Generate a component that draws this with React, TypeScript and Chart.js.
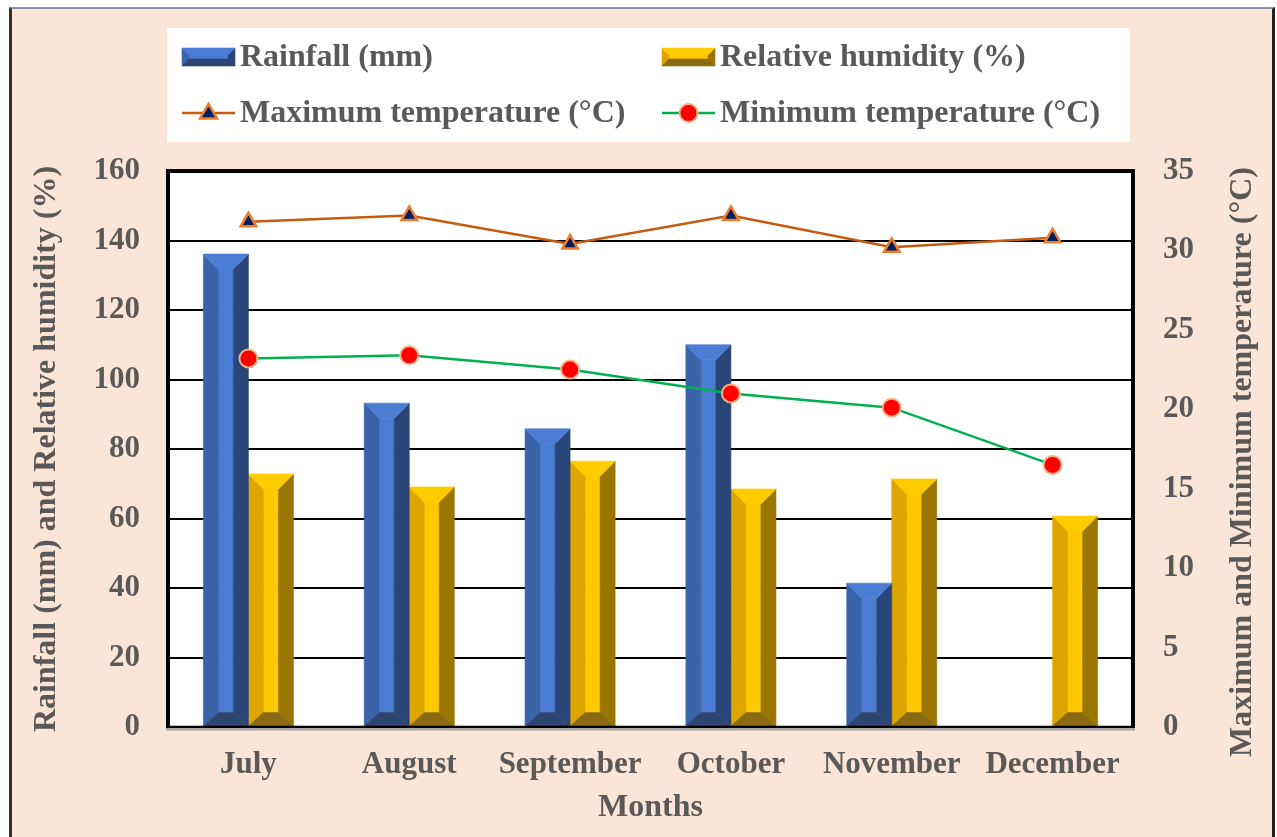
import React, { useEffect, useRef } from "react";
import { Chart, registerables } from "chart.js";
Chart.register(...registerables);

const months = ["July", "August", "September", "October", "November", "December"];
const rainfall = [136.1, 93.2, 85.8, 110.0, 41.4, 0];
const humidity = [72.8, 69.1, 76.5, 68.5, 71.4, 60.7];
const maxTemp = [31.8, 32.2, 30.4, 32.2, 30.2, 30.8];
const minTemp = [23.2, 23.4, 22.5, 21.0, 20.1, 16.5];

const legendLabels = [
  "Rainfall (mm)",
  "Relative humidity (%)",
  "Maximum temperature (°C)",
  "Minimum temperature (°C)",
];
const leftTitle = "Rainfall (mm) and Relative humidity (%)";
const rightTitle = "Maximum and Minimum temperature (°C)";
const xTitle = "Months";

const FONT = "'Liberation Serif', 'Times New Roman', serif";
const TEXT = "#595959";

const blue = { top: "#4B7DD3", left: "#3A64A9", center: "#4A7CD3", right: "#2A4678", bottom: "#2E4571" };
const gold = { top: "#FFCC00", left: "#DDA600", center: "#FFC800", right: "#9A7500", bottom: "#8A6B12" };
const maxColor = "#C55A11";
const maxFill = "#002060";
const maxEdge = "#ED7D31";
const minColor = "#00B050";
const minFill = "#FF0000";
const minEdge = "#F4B183";

type Bev = { top: string; left: string; center: string; right: string; bottom: string };

function poly(ctx: CanvasRenderingContext2D, pts: number[][], color: string) {
  ctx.beginPath();
  ctx.moveTo(pts[0][0], pts[0][1]);
  for (let i = 1; i < pts.length; i++) ctx.lineTo(pts[i][0], pts[i][1]);
  ctx.closePath();
  ctx.fillStyle = color;
  ctx.strokeStyle = color;
  ctx.lineWidth = 0.6;
  ctx.fill();
  ctx.stroke();
}

function bevel(ctx: CanvasRenderingContext2D, x0: number, y0: number, x1: number, y1: number, b: number, bt: number, bb: number, c: Bev) {
  const w = x1 - x0;
  const h = y1 - y0;
  if (w < 1 || h < 1) return;
  const bx = Math.min(b, w / 2);
  const byT = Math.min(bt, h / 2);
  const byB = Math.min(bb, h / 2);
  const ix0 = x0 + bx, ix1 = x1 - bx, iy0 = y0 + byT, iy1 = y1 - byB;
  poly(ctx, [[ix0, iy0], [ix1, iy0], [ix1, iy1], [ix0, iy1]], c.center);
  poly(ctx, [[x0, y0], [ix0, iy0], [ix0, iy1], [x0, y1]], c.left);
  poly(ctx, [[x1, y0], [x1, y1], [ix1, iy1], [ix1, iy0]], c.right);
  poly(ctx, [[x0, y0], [x1, y0], [ix1, iy0], [ix0, iy0]], c.top);
  poly(ctx, [[x0, y1], [ix0, iy1], [ix1, iy1], [x1, y1]], c.bottom);
}

function triangle(ctx: CanvasRenderingContext2D, x: number, y: number, r: number) {
  ctx.beginPath();
  ctx.moveTo(x, y - r);
  ctx.lineTo(x + r * 0.95, y + r * 0.6);
  ctx.lineTo(x - r * 0.95, y + r * 0.6);
  ctx.closePath();
  ctx.fillStyle = maxFill;
  ctx.fill();
  ctx.strokeStyle = maxEdge;
  ctx.lineWidth = 2.5;
  ctx.stroke();
}

function circle(ctx: CanvasRenderingContext2D, x: number, y: number, r: number) {
  ctx.beginPath();
  ctx.arc(x, y, r, 0, Math.PI * 2);
  ctx.fillStyle = minFill;
  ctx.fill();
  ctx.strokeStyle = minEdge;
  ctx.lineWidth = 2;
  ctx.stroke();
}

const bevelPlugin = {
  id: "bevelBars",
  beforeDraw(chart: any) {
    const { ctx, chartArea: a } = chart;
    ctx.save();
    ctx.fillStyle = "#FFFFFF";
    ctx.fillRect(a.left, a.top, a.right - a.left, a.bottom - a.top);
    ctx.restore();
  },
  afterDatasetDraw(chart: any, args: any) {
    const meta = args.meta;
    if (meta.type !== "bar") return;
    const colors = args.index === 0 ? blue : gold;
    const ctx = chart.ctx;
    ctx.save();
    meta.data.forEach((el: any) => {
      const p = el.getProps(["x", "y", "base", "width"], true);
      const x0 = p.x - p.width / 2;
      const x1 = p.x + p.width / 2;
      const top = Math.min(p.y, p.base);
      const bot = Math.max(p.y, p.base);
      bevel(ctx, x0, top, x1, bot, p.width / 3, p.width / 3, p.width * 0.3, colors);
    });
    ctx.restore();
  },
  afterDraw(chart: any) {
    const { ctx, chartArea: a } = chart;
    ctx.save();
    // plot border
    ctx.strokeStyle = "#000";
    ctx.lineWidth = 4;
    ctx.beginPath();
    ctx.moveTo(a.left, a.bottom);
    ctx.lineTo(a.left, a.top);
    ctx.lineTo(a.right, a.top);
    ctx.lineTo(a.right, a.bottom);
    ctx.stroke();
    ctx.lineWidth = 2.5;
    ctx.beginPath();
    ctx.moveTo(a.left - 2, a.bottom);
    ctx.lineTo(a.right + 2, a.bottom);
    ctx.stroke();
    ctx.strokeStyle = "#A6A6A6";
    ctx.lineWidth = 2;
    ctx.beginPath();
    ctx.moveTo(a.left - 2, a.bottom + 2.5);
    ctx.lineTo(a.right + 2, a.bottom + 2.5);
    ctx.stroke();

    // right axis title (reads bottom to top)
    ctx.fillStyle = TEXT;
    ctx.font = `bold 32px ${FONT}`;
    ctx.textAlign = "center";
    ctx.textBaseline = "middle";
    ctx.translate(1243, 462);
    ctx.rotate(-Math.PI / 2);
    ctx.fillText(rightTitle, 0, 0);
    ctx.setTransform(chart.currentDevicePixelRatio, 0, 0, chart.currentDevicePixelRatio, 0, 0);

    // legend box
    ctx.fillStyle = "#FFFFFF";
    ctx.fillRect(167, 28, 963, 114);
    const rows = [57, 113];
    const cols = [182, 662];
    ctx.font = `bold 32px ${FONT}`;
    ctx.textAlign = "left";
    ctx.textBaseline = "middle";
    legendLabels.forEach((lab, i) => {
      const cx = cols[i % 2];
      const cy = rows[Math.floor(i / 2)];
      if (i < 2) {
        bevel(ctx, cx, cy - 9, cx + 53, cy + 9, 7, 7, 7, i === 0 ? blue : gold);
      } else {
        ctx.strokeStyle = i === 2 ? maxColor : minColor;
        ctx.lineWidth = 2.5;
        ctx.beginPath();
        ctx.moveTo(cx, cy);
        ctx.lineTo(cx + 53, cy);
        ctx.stroke();
        if (i === 2) triangle(ctx, cx + 26.5, cy, 9);
        else circle(ctx, cx + 26.5, cy, 9);
      }
      ctx.fillStyle = TEXT;
      ctx.fillText(lab, cx + 58, cy + 1);
    });
    ctx.restore();
  },
};

export default function App() {
  const ref = useRef<HTMLCanvasElement>(null);
  useEffect(() => {
    if (!ref.current) return;
    const tickFont = { family: FONT, size: 31, weight: "bold" as const };
    const titleFont = { family: FONT, size: 32, weight: "bold" as const };
    const chart = new Chart(ref.current, {
      data: {
        labels: months,
        datasets: [
          {
            type: "bar",
            label: legendLabels[0],
            data: rainfall,
            backgroundColor: "rgba(0,0,0,0)",
            borderWidth: 0,
            yAxisID: "y",
            order: 2,
            categoryPercentage: 0.56,
            barPercentage: 1,
          },
          {
            type: "bar",
            label: legendLabels[1],
            data: humidity,
            backgroundColor: "rgba(0,0,0,0)",
            borderWidth: 0,
            yAxisID: "y",
            order: 2,
            categoryPercentage: 0.56,
            barPercentage: 1,
          },
          {
            type: "line",
            label: legendLabels[2],
            data: maxTemp,
            borderColor: maxColor,
            borderWidth: 2.5,
            pointStyle: "triangle",
            pointRadius: 9,
            pointBackgroundColor: maxFill,
            pointBorderColor: maxEdge,
            pointBorderWidth: 2.5,
            tension: 0,
            yAxisID: "y1",
            order: 1,
          },
          {
            type: "line",
            label: legendLabels[3],
            data: minTemp,
            borderColor: minColor,
            borderWidth: 2.5,
            pointStyle: "circle",
            pointRadius: 9,
            pointBackgroundColor: minFill,
            pointBorderColor: minEdge,
            pointBorderWidth: 2,
            tension: 0,
            yAxisID: "y1",
            order: 1,
          },
        ],
      },
      options: {
        animation: false,
        responsive: true,
        maintainAspectRatio: false,
        layout: { padding: { top: 171, left: 0, right: 0, bottom: 0 } },
        plugins: { legend: { display: false }, tooltip: { enabled: false } },
        scales: {
          x: {
            grid: { display: false, drawTicks: false },
            border: { display: false },
            ticks: { color: TEXT, font: tickFont, padding: 19, maxRotation: 0, autoSkip: false },
            title: { display: true, text: xTitle, color: TEXT, font: titleFont, padding: { top: 0, bottom: 10 } },
            afterFit: (s: any) => { s.height = 110; },
          },
          y: {
            position: "left",
            min: 0,
            max: 160,
            ticks: { stepSize: 20, color: TEXT, font: tickFont, padding: 28 },
            grid: { color: "#000", lineWidth: 2, drawTicks: false },
            border: { display: false },
            title: { display: true, text: leftTitle, color: TEXT, font: titleFont, padding: { top: 28, bottom: 0 } },
            afterFit: (s: any) => { s.width = 168; },
          },
          y1: {
            position: "right",
            min: 0,
            max: 35,
            ticks: { stepSize: 5, color: TEXT, font: tickFont, padding: 30 },
            grid: { display: false, drawTicks: false },
            border: { display: false },
            afterFit: (s: any) => { s.width = 144; },
          },
        },
      },
      plugins: [bevelPlugin],
    } as any);
    return () => chart.destroy();
  }, []);

  return (
    <div style={{ position: "fixed", left: 0, top: 0, width: 1277, height: 837, background: "#FFFFFF" }}>
      <div
        style={{
          position: "absolute",
          left: 9,
          top: 7,
          width: 1260,
          height: 840,
          background: "#FBE5D7",
          borderLeft: "3px solid #333333",
          borderRight: "3px solid #222222",
          borderTop: "2px solid #8C96AA",
        }}
      />
      <div style={{ position: "absolute", left: 0, top: 0, width: 1277, height: 837 }}>
        <canvas ref={ref} />
      </div>
    </div>
  );
}
